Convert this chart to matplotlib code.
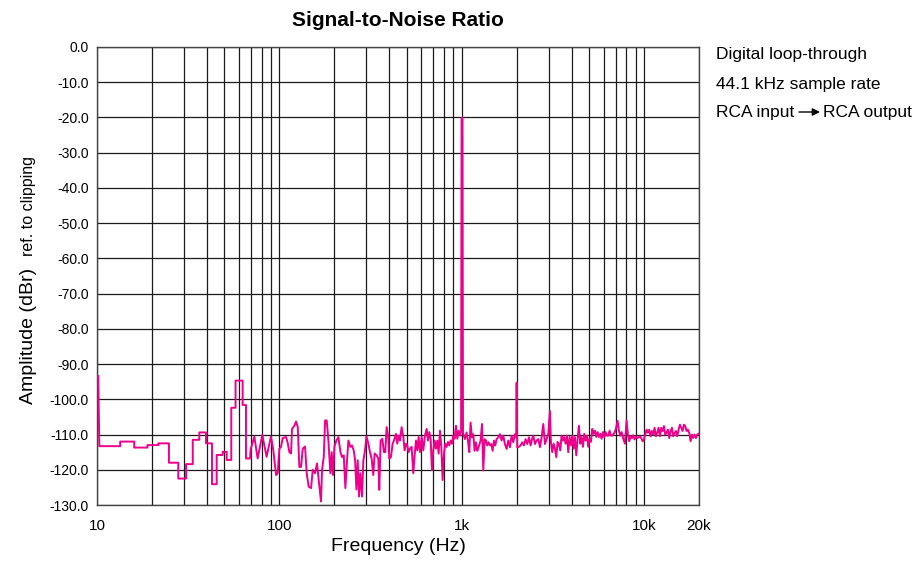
import numpy as np
import matplotlib
matplotlib.use('Agg')
import matplotlib.pyplot as plt
from matplotlib.ticker import FixedLocator, NullFormatter

plt.rcParams['font.family'] = ['Liberation Sans', 'DejaVu Sans']
plt.rcParams['axes.unicode_minus'] = False

# =============================
# DATA
# =============================

# low end: FFT bins show up as steps, so corners are listed twice
freq_low = [10.15, 10.3, 13.4, 13.4, 16.0, 16.0, 18.9, 18.9, 21.7, 21.7,
            24.8, 24.8, 27.9, 27.9, 30.8, 30.8, 33.5, 33.5, 36.4, 36.4,
            39.6, 39.6, 42.7, 42.7, 45.3, 45.3, 48.9, 48.9, 51.4, 51.4,
            54.5, 54.5, 57.5, 57.5, 62.9, 62.9, 65.6, 65.6, 69.0]
level_low = [-93.4, -113.3, -113.3, -112.0, -112.0, -113.7, -113.7, -113.0, -113.0, -112.5,
             -112.5, -118.0, -118.0, -122.5, -122.5, -118.4, -118.4, -111.5, -111.5, -109.4,
             -109.4, -112.5, -112.5, -124.1, -124.1, -115.8, -115.8, -114.9, -114.9, -117.2,
             -117.2, -102.4, -102.4, -94.7, -94.7, -101.6, -101.6, -116.8, -116.8]

freq_mid = [69.6, 72.9, 76.0, 80.6, 85.1, 89.9, 92.6, 95.9, 97.9, 100,
            102.1, 104.3, 108.8, 111.1, 113.5, 115.9, 117.3, 120.9, 123.4, 126.1,
            128.7, 131.5, 134.3, 138.3, 141.2, 144.8, 149.2, 152.4, 156.9, 160.9,
            164.3, 169.2, 171.4, 175.1, 178.1, 181.8, 185.7, 190.4, 193.6, 196.9,
            200.3, 205.4, 210.7, 216.1, 220.7, 225.4, 230.1, 235.0, 239.0, 245.1,
            250.3, 255.6, 260.2, 264.5, 268.9, 273.5, 278.1, 284.0, 288.8, 295.0,
            300.0, 307.7, 313.8, 320.5, 327.3, 332.9, 341.4, 348.7, 353.1, 359.1,
            366.7, 374.5, 380.8, 387.3, 395.5, 400.6, 409.1, 417.8, 424.9, 435.8,
            443.2, 450.7, 458.4, 468.2, 478.1, 486.2, 494.5, 502.9, 511.4, 520.1,
            531.1, 542.5, 551.7, 561.1, 570.6, 580.3, 590.2, 602.8, 615.5, 628.6,
            642.0, 652.9, 664.0, 675.2, 686.6, 698.2, 710.2, 722.2, 734.5, 746.9,
            759.6, 772.5, 785.6, 799.1, 812.6, 826.4, 840.4, 854.7, 869.2, 883.9,
            898.9, 914.4, 929.9, 945.7, 961.6, 977.9, 992, 998, 1008, 1016]
level_mid = [-114.2, -110.6, -116.8, -110.1, -116.3, -110.6, -114.4, -121.5, -121.0, -114.0,
             -113.5, -111.0, -110.7, -112.4, -115.0, -115.4, -108.4, -107.5, -106.3, -107.8,
             -119.2, -119.2, -114.0, -113.4, -121.0, -124.8, -125.2, -120.0, -121.0, -118.2,
             -122.9, -129.0, -120.0, -116.4, -106.0, -106.0, -111.7, -121.0, -115.0, -121.5,
             -113.5, -111.7, -110.7, -115.0, -116.4, -115.9, -125.2, -117.3, -111.7, -113.5,
             -113.1, -114.5, -117.3, -125.6, -117.3, -127.6, -121.0, -127.6, -117.3, -114.5,
             -110.5, -112.6, -115.0, -116.8, -121.5, -115.4, -115.9, -116.8, -125.7, -111.7,
             -111.2, -115.0, -115.0, -107.9, -110.7, -116.8, -116.4, -112.6, -111.7, -109.8,
             -112.6, -110.3, -111.7, -107.9, -110.7, -114.5, -112.6, -113.1, -115.0, -114.0,
             -113.5, -121.0, -115.9, -111.7, -114.5, -110.7, -115.0, -110.7, -114.5, -110.3,
             -108.4, -111.7, -109.3, -111.2, -120.1, -114.5, -111.7, -114.0, -111.7, -115.4,
             -108.9, -113.5, -122.9, -115.4, -112.6, -113.5, -112.1, -113.1, -111.7, -112.6,
             -110.3, -111.2, -107.5, -111.2, -108.9, -110.3, -109.0, -20.3, -20.0, -109.5]

freq_high = [1041, 1063, 1081, 1100, 1118, 1137, 1157, 1176, 1196, 1217,
             1237, 1269, 1291, 1313, 1335, 1358, 1380, 1404, 1428, 1452,
             1477, 1502, 1527, 1553, 1586, 1620, 1654, 1689, 1725, 1762,
             1800, 1838, 1877, 1917, 1957, 1988, 2000, 2015, 2040, 2103,
             2147, 2193, 2240, 2288, 2336, 2386, 2427, 2469, 2520, 2574,
             2629, 2685, 2741, 2800, 2859, 2920, 2982, 3044, 3083, 3136,
             3189, 3243, 3298, 3354, 3411, 3469, 3528, 3588, 3649, 3711,
             3774, 3838, 3903, 3969, 4036, 4105, 4174, 4246, 4318, 4391,
             4466, 4542, 4619, 4697, 4777, 4858, 4941, 5024, 5110, 5196,
             5284, 5374, 5466, 5559, 5653, 5749, 5847, 5946, 6047, 6149,
             6254, 6360, 6468, 6577, 6689, 6802, 6918, 7035, 7155, 7277,
             7400, 7526, 7685, 7850, 8014, 8150, 8288, 8429, 8572, 8717,
             8865, 9016, 9169, 9324, 9484, 9645, 9808, 9975, 10144, 10316,
             10493, 10671, 10852, 11036, 11222, 11413, 11606, 11803, 12006, 12210,
             12417, 12628, 12842, 13060, 13282, 13507, 13739, 13972, 14209, 14450,
             14695, 14945, 15198, 15456, 15718, 15984, 16255, 16531, 16812, 17097,
             17387, 17683, 17983, 18288, 18598, 18914, 19235, 19561, 19890]
level_high = [-111.3, -109.4, -111.7, -115.0, -106.6, -110.8, -109.9, -114.6, -112.2, -114.6,
              -113.6, -111.7, -107.0, -120.2, -111.3, -111.7, -113.1, -112.2, -113.1, -112.7,
              -114.6, -111.7, -113.1, -111.3, -110.8, -109.9, -111.7, -110.3, -112.7, -114.1,
              -111.7, -113.6, -110.3, -112.2, -109.9, -110.8, -95.3, -113.6, -113.6, -113.1,
              -112.2, -113.1, -111.3, -112.7, -110.8, -113.1, -111.3, -110.3, -112.7, -111.7,
              -111.3, -113.6, -110.8, -107.0, -112.7, -111.3, -109.9, -103.3, -112.1, -115.0,
              -112.6, -114.0, -116.4, -112.1, -112.6, -114.5, -110.3, -111.7, -110.7, -112.6,
              -110.3, -115.0, -110.7, -113.1, -110.3, -114.0, -110.7, -115.9, -111.2, -107.5,
              -112.6, -110.7, -113.5, -109.8, -111.7, -110.3, -113.5, -111.2, -112.1, -108.4,
              -109.8, -108.9, -110.7, -109.3, -110.7, -109.8, -111.2, -109.3, -110.7, -109.3,
              -110.3, -110.3, -108.9, -110.3, -110.3, -109.8, -109.3, -107.9, -106.1, -108.9,
              -110.3, -109.3, -111.2, -112.6, -106.0, -110.0, -111.9, -110.5, -111.0, -110.2,
              -111.4, -110.5, -111.0, -110.8, -110.5, -111.0, -111.9, -111.4, -110.0, -108.6,
              -109.5, -108.6, -110.5, -109.0, -110.0, -108.1, -110.5, -109.5, -108.1, -110.5,
              -108.1, -109.0, -107.6, -110.0, -109.5, -108.6, -111.0, -109.0, -108.1, -110.5,
              -109.5, -109.0, -110.5, -108.6, -107.2, -108.1, -109.0, -107.2, -107.6, -109.0,
              -108.6, -109.5, -111.9, -110.0, -111.0, -110.0, -111.0, -110.0, -109.8]

freq = freq_low + freq_mid + freq_high
level = level_low + level_mid + level_high

x_ticks = [10, 100, 1000, 10000, 20000]
x_labels = ['10', '100', '1k', '10k', '20k']
y_ticks = list(range(0, -140, -10))
y_labels = ['%.1f' % v for v in y_ticks]

notes = ['Digital loop-through', '44.1 kHz sample rate']

# =============================
# PLOT
# =============================

W, H = 921, 567
fig = plt.figure(figsize=(W / 100, H / 100), dpi=100)
ax = fig.add_axes([97 / W, 1 - 505 / H, (699 - 97) / W, (505 - 47) / H])

ax.plot(freq, level, color='#EC008C', linewidth=1.4, zorder=3)

ax.set_xscale('log')
ax.set_xlim(10, 20000)
ax.set_ylim(-130, 0)

ax.xaxis.set_major_locator(FixedLocator(x_ticks))
ax.set_xticklabels(x_labels)
minor = [m * d for d in (10, 100, 1000) for m in range(2, 10)]
ax.xaxis.set_minor_locator(FixedLocator(minor))
ax.xaxis.set_minor_formatter(NullFormatter())
ax.set_yticks(y_ticks)
ax.set_yticklabels(y_labels)

ax.grid(True, which='both', color='#1a1a1a', linewidth=0.9)
ax.tick_params(which='both', length=0, labelsize=10)
ax.tick_params(axis='y', pad=6)
ax.tick_params(axis='x', pad=10, labelsize=11)
for s in ax.spines.values():
    s.set_color('#444444')
    s.set_linewidth(1.0)

ax.set_xlabel('Frequency (Hz)', fontsize=14, labelpad=4)

def fx(px):
    return px / W

def fy(py):
    return 1 - py / H

fig.text(fx(398), fy(20), 'Signal-to-Noise Ratio', ha='center', va='center',
         fontsize=15, fontweight='bold')

fig.text(fx(33), fy(404), 'Amplitude (dBr)', rotation=90, rotation_mode='anchor',
         ha='left', va='baseline', fontsize=14)
fig.text(fx(33), fy(256), 'ref. to clipping', rotation=90, rotation_mode='anchor',
         ha='left', va='baseline', fontsize=11.5)

for i, line in enumerate(notes):
    fig.text(fx(716), fy(55 + 29 * i), line, ha='left', va='center', fontsize=12.5)
fig.text(fx(716), fy(113), 'RCA input', ha='left', va='center', fontsize=12.5)
fig.text(fx(823), fy(113), 'RCA output', ha='left', va='center', fontsize=12.5)
ax.annotate('', xy=(fx(820), fy(112)), xycoords='figure fraction',
            xytext=(fx(799), fy(112)), textcoords='figure fraction',
            arrowprops=dict(arrowstyle='-|>', color='black', lw=1.0,
                            mutation_scale=11, shrinkA=0, shrinkB=0))

fig.savefig('out.png', dpi=100)
